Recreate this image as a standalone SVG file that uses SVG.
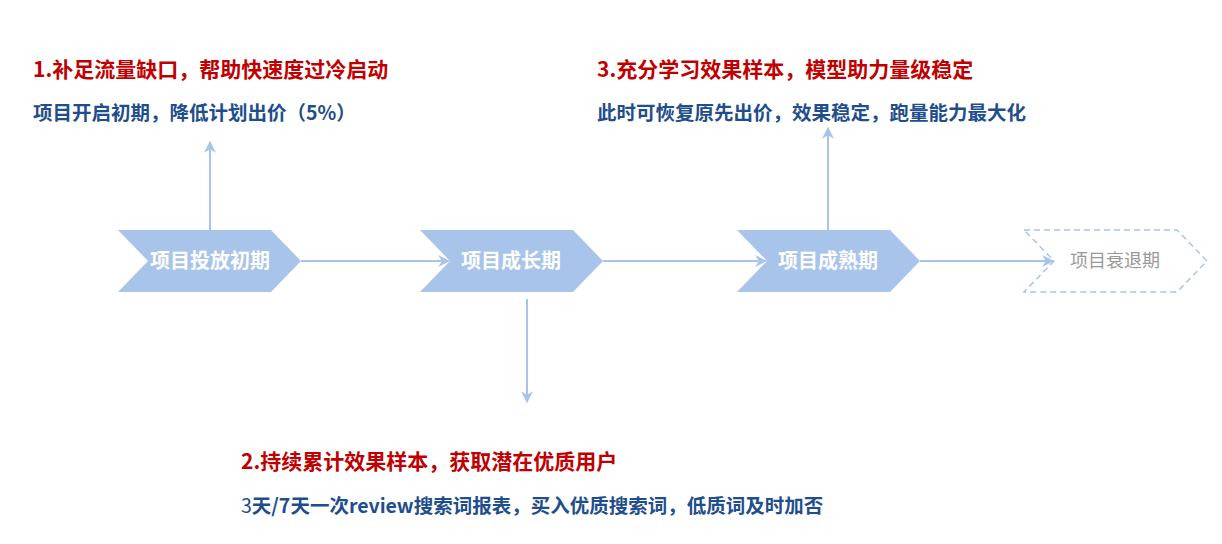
<svg xmlns="http://www.w3.org/2000/svg" width="1222" height="544" viewBox="0 0 1222 544">
<style>
.ch{fill:#a9c4ea}
.nt{font-family:"Noto Sans CJK SC",sans-serif;font-weight:bold;font-size:20px;fill:#fff;text-anchor:middle}
.h{font-family:"Noto Sans CJK SC",sans-serif;font-weight:bold;font-size:21px;fill:#c00000}
.s{font-family:"Noto Sans CJK SC",sans-serif;font-weight:bold;font-size:19.5px;fill:#1f4e8c}
.c{stroke:#a9c4ea;stroke-width:2;fill:none}
</style>
<defs>
<marker id="b" viewBox="0 0 10 10" refX="9" refY="5" markerWidth="12" markerHeight="12" markerUnits="userSpaceOnUse" orient="auto"><path d="M0,0 L10,5 L0,10 L3,5 z" fill="#a9c4ea"/></marker>
</defs>
<rect width="1222" height="544" fill="#fff"/>
<g id="connectors">
<path class="c" d="M210,230 V142" marker-end="url(#b)"/>
<path class="c" d="M301,261 H449" marker-end="url(#b)"/>
<path class="c" d="M527,299 V402" marker-end="url(#b)"/>
<path class="c" d="M603,261 H766" marker-end="url(#b)"/>
<path class="c" d="M828,230 V128" marker-end="url(#b)"/>
<path class="c" d="M920,261 H1053" marker-end="url(#b)"/>
</g>
<g id="n1"><path class="ch" d="M118,230 H271 L301,261 L271,292 H118 L148,261 z"/><text class="nt" x="210" y="268">项目投放初期</text></g>
<g id="n2"><path class="ch" d="M420,230 H573 L603,261 L573,292 H420 L450,261 z"/><text class="nt" x="511" y="268">项目成长期</text></g>
<g id="n3"><path class="ch" d="M737,230 H890 L920,261 L890,292 H737 L767,261 z"/><text class="nt" x="828" y="268">项目成熟期</text></g>
<g id="n4"><path d="M1024,230 H1177 L1207,261 L1177,292 H1024 L1054,261 z" fill="none" stroke="#a9c4ea" stroke-width="1.5" stroke-dasharray="6,4"/><text x="1115" y="267" font-family="Noto Sans CJK SC,sans-serif" font-size="18" fill="#999" text-anchor="middle">项目衰退期</text></g>
<g id="t1"><text class="h" x="33" y="77">1.补足流量缺口，帮助快速度过冷启动</text><text class="s" x="33" y="120">项目开启初期，降低计划出价（5%）</text></g>
<g id="t2"><text class="h" x="241" y="469">2.持续累计效果样本，获取潜在优质用户</text><text class="s" x="241" y="513"><tspan font-weight="normal">3</tspan>天/7天一次review搜索词报表，买入优质搜索词，低质词及时加否</text></g>
<g id="t3"><text class="h" x="597" y="77">3.充分学习效果样本，模型助力量级稳定</text><text class="s" x="597" y="120">此时可恢复原先出价，效果稳定，跑量能力最大化</text></g>
</svg>
